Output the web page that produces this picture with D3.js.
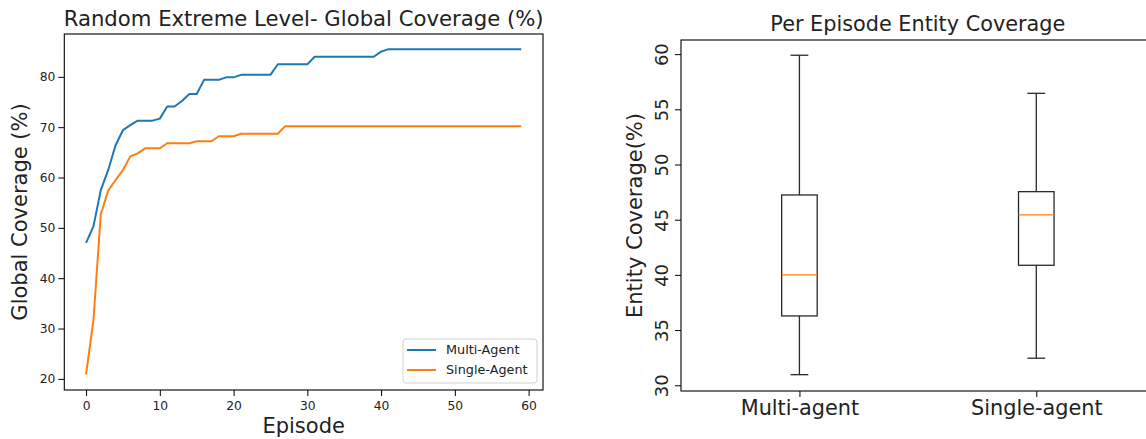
<!DOCTYPE html>
<html>
<head>
<meta charset="utf-8">
<script src="https://cdn.jsdelivr.net/npm/d3@7"></script>
<style>
  body { margin: 0; background: #fff; }
  svg, svg text { font-family: "DejaVu Sans", sans-serif; }
  svg { display: block; }
</style>
</head>
<body>
<div id="chart"></div>
<script>
// ---- data ----
const multiAgent = [47.0, 50.3, 57.5, 61.5, 66.4, 69.4, 70.4, 71.3, 71.3, 71.3,
  71.7, 74.1, 74.1, 75.2, 76.6, 76.6, 79.4, 79.4, 79.4, 79.9,
  79.9, 80.4, 80.4, 80.4, 80.4, 80.4, 82.5, 82.5, 82.5, 82.5,
  82.5, 84.0, 84.0, 84.0, 84.0, 84.0, 84.0, 84.0, 84.0, 84.0,
  85.0, 85.5, 85.5, 85.5, 85.5, 85.5, 85.5, 85.5, 85.5, 85.5,
  85.5, 85.5, 85.5, 85.5, 85.5, 85.5, 85.5, 85.5, 85.5, 85.5];
const singleAgent = [20.9, 31.6, 52.7, 57.4, 59.5, 61.5, 64.2, 64.8, 65.8, 65.8,
  65.8, 66.8, 66.8, 66.8, 66.8, 67.2, 67.2, 67.2, 68.2, 68.2,
  68.2, 68.7, 68.7, 68.7, 68.7, 68.7, 68.7, 70.2, 70.2, 70.2,
  70.2, 70.2, 70.2, 70.2, 70.2, 70.2, 70.2, 70.2, 70.2, 70.2,
  70.2, 70.2, 70.2, 70.2, 70.2, 70.2, 70.2, 70.2, 70.2, 70.2,
  70.2, 70.2, 70.2, 70.2, 70.2, 70.2, 70.2, 70.2, 70.2, 70.2];
const seriesNames = ["Multi-Agent", "Single-Agent"];
const seriesColors = ["#1f77b4", "#ff7f0e"];
const lineTicksX = [0, 10, 20, 30, 40, 50, 60];
const lineTicksY = [20, 30, 40, 50, 60, 70, 80];

const boxGroups = ["Multi-agent", "Single-agent"];
const whiskerLow = [30.96, 32.45];
const q1 = [36.28, 40.87];
const median = [40.0, 45.43];
const q3 = [47.24, 47.54];
const whiskerHigh = [59.9, 56.45];
const boxTicksY = [30, 35, 40, 45, 50, 55, 60];

const W = 1146, H = 439;
const FONT = "DejaVu Sans";
const svg = d3.select("#chart").append("svg")
  .attr("width", W).attr("height", H);

// d3.axis puts font-family="sans-serif" on the group, reset it
function styleAxis(a, size) {
  a.attr("font-family", FONT);
  a.select(".domain").remove();
  a.selectAll(".tick line").attr("stroke", "#000").attr("stroke-width", 1);
  a.selectAll(".tick text").attr("fill", "#222")
    .style("font-family", FONT).style("font-size", size + "px");
}

// ---------- left: line chart ----------
const L = {left: 64.3, right: 543, top: 34, bottom: 390};
const xLine = d3.scaleLinear().domain([-2.95, 61.95]).range([L.left, L.right]);
const yLine = d3.scaleLinear().domain([17.79, 88.51]).range([L.bottom, L.top]);

const leftG = svg.append("g").attr("class", "lineChart");

const xAxisL = leftG.append("g")
  .attr("transform", "translate(0," + L.bottom + ")")
  .call(d3.axisBottom(xLine).tickValues(lineTicksX).tickSize(6).tickPadding(5));
const yAxisL = leftG.append("g")
  .attr("transform", "translate(" + L.left + ",0)")
  .call(d3.axisLeft(yLine).tickValues(lineTicksY).tickSize(6).tickPadding(3));
styleAxis(xAxisL, 12.3);
styleAxis(yAxisL, 12.3);

const lineGen = d3.line()
  .x((d, i) => xLine(i))
  .y(d => yLine(d));
[multiAgent, singleAgent].forEach((vals, k) => {
  leftG.append("path")
    .datum(vals)
    .attr("fill", "none")
    .attr("stroke", seriesColors[k])
    .attr("stroke-width", 2)
    .attr("stroke-linejoin", "round")
    .attr("d", lineGen);
});

leftG.append("rect")
  .attr("x", L.left).attr("y", L.top)
  .attr("width", L.right - L.left).attr("height", L.bottom - L.top)
  .attr("fill", "none").attr("stroke", "#000").attr("stroke-width", 1.1);

// legend
const lg = leftG.append("g").attr("transform", "translate(403,339)");
lg.append("rect")
  .attr("width", 134).attr("height", 44).attr("rx", 3)
  .attr("fill", "#fff").attr("fill-opacity", 0.8)
  .attr("stroke", "#d0d0d0").attr("stroke-width", 1);
seriesNames.forEach((name, k) => {
  const row = lg.append("g").attr("transform", "translate(0," + (11 + k * 20) + ")");
  row.append("line").attr("x1", 4).attr("x2", 33)
    .attr("stroke", seriesColors[k]).attr("stroke-width", 2);
  row.append("text").attr("x", 43).attr("dy", "0.35em")
    .style("font-size", "12.8px").attr("fill", "#222").text(name);
});

leftG.append("text")
  .attr("x", (L.left + L.right) / 2).attr("y", 25.5)
  .attr("text-anchor", "middle").style("font-size", "21.2px").attr("fill", "#222")
  .text("Random Extreme Level- Global Coverage (%)");
leftG.append("text")
  .attr("x", (L.left + L.right) / 2).attr("y", 433)
  .attr("text-anchor", "middle").style("font-size", "21px").attr("fill", "#222")
  .text("Episode");
leftG.append("text")
  .attr("transform", "translate(27," + (L.top + L.bottom) / 2 + ") rotate(-90)")
  .attr("text-anchor", "middle").style("font-size", "21px").attr("fill", "#222")
  .text("Global Coverage (%)");

// ---------- right: box plot ----------
const R = {left: 681, right: 1154.7, top: 40, bottom: 391};
const xBox = d3.scaleLinear().domain([0.5, 2.5]).range([R.left, R.right]);
const yBox = d3.scaleLinear().domain([29.48, 61.28]).range([R.bottom, R.top]);
const rightG = svg.append("g").attr("class", "boxChart");

const xAxisR = rightG.append("g")
  .attr("transform", "translate(0," + R.bottom + ")")
  .call(d3.axisBottom(xBox).tickValues([1, 2]).tickFormat((d) => boxGroups[d - 1])
    .tickSize(6).tickPadding(3));
const yAxisR = rightG.append("g")
  .attr("transform", "translate(" + R.left + ",0)")
  .call(d3.axisLeft(yBox).tickValues(boxTicksY).tickSize(6).tickPadding(4));
styleAxis(xAxisR, 20.8);
styleAxis(yAxisR, 18);
yAxisR.selectAll(".tick text")
  .attr("text-anchor", "middle").attr("dy", null)
  .attr("x", null)
  .attr("transform", "translate(-20,0) rotate(-90)")
  .attr("dominant-baseline", "central");

const halfBox = (xBox(1.075) - xBox(1));
const halfCap = halfBox / 2;
boxGroups.forEach((g, i) => {
  const cx = xBox(i + 1);
  const bg = rightG.append("g").attr("stroke", "#2a2a2a").attr("stroke-width", 1.3).attr("fill", "none");
  bg.append("line").attr("x1", cx).attr("x2", cx).attr("y1", yBox(whiskerLow[i])).attr("y2", yBox(q1[i]));
  bg.append("line").attr("x1", cx).attr("x2", cx).attr("y1", yBox(q3[i])).attr("y2", yBox(whiskerHigh[i]));
  bg.append("line").attr("x1", cx - halfCap).attr("x2", cx + halfCap).attr("y1", yBox(whiskerLow[i])).attr("y2", yBox(whiskerLow[i]));
  bg.append("line").attr("x1", cx - halfCap).attr("x2", cx + halfCap).attr("y1", yBox(whiskerHigh[i])).attr("y2", yBox(whiskerHigh[i]));
  bg.append("rect").attr("x", cx - halfBox).attr("width", 2 * halfBox)
    .attr("y", yBox(q3[i])).attr("height", yBox(q1[i]) - yBox(q3[i]));
  rightG.append("line")
    .attr("x1", cx - halfBox).attr("x2", cx + halfBox)
    .attr("y1", yBox(median[i])).attr("y2", yBox(median[i]))
    .attr("stroke", "#ff7f0e").attr("stroke-width", 1.3);
});

rightG.append("rect")
  .attr("x", R.left).attr("y", R.top)
  .attr("width", R.right - R.left).attr("height", R.bottom - R.top)
  .attr("fill", "none").attr("stroke", "#000").attr("stroke-width", 1.1);

rightG.append("text")
  .attr("x", (R.left + R.right) / 2).attr("y", 31)
  .attr("text-anchor", "middle").style("font-size", "20.8px").attr("fill", "#222")
  .text("Per Episode Entity Coverage");
rightG.append("text")
  .attr("transform", "translate(642," + (R.top + R.bottom) / 2 + ") rotate(-90)")
  .attr("text-anchor", "middle").style("font-size", "21px").attr("fill", "#222")
  .text("Entity Coverage(%)");
</script>
</body>
</html>
